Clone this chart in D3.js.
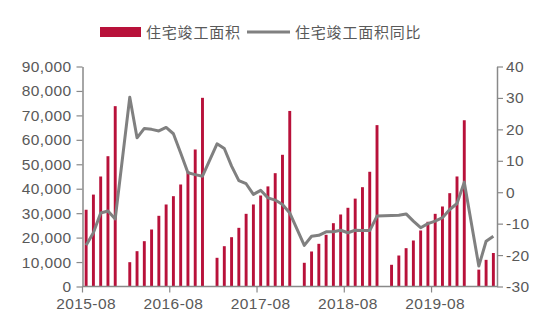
<!DOCTYPE html>
<html>
<head>
<meta charset="utf-8">
<script src="https://cdn.jsdelivr.net/npm/d3@7/dist/d3.min.js"></script>
<style>
  html, body { margin: 0; padding: 0; background: #fff; }
  svg { display: block; }
</style>
</head>
<body>
<svg id="chart" width="550" height="336"></svg>
<script>
const months = [
  "2015-08","2015-09","2015-10","2015-11","2015-12",
  "2016-01","2016-02","2016-03","2016-04","2016-05","2016-06","2016-07","2016-08","2016-09","2016-10","2016-11","2016-12",
  "2017-01","2017-02","2017-03","2017-04","2017-05","2017-06","2017-07","2017-08","2017-09","2017-10","2017-11","2017-12",
  "2018-01","2018-02","2018-03","2018-04","2018-05","2018-06","2018-07","2018-08","2018-09","2018-10","2018-11","2018-12",
  "2019-01","2019-02","2019-03","2019-04","2019-05","2019-06","2019-07","2019-08","2019-09","2019-10","2019-11","2019-12",
  "2020-01","2020-02","2020-03","2020-04"
];
// 住宅竣工面积 (cumulative, 万平方米); January has no data
const area = [
  31400, 37600, 45000, 53300, 73777,
  null, 9950, 14450, 18540, 23320, 28920, 33550, 36950, 41730, 47170, 56050, 77185,
  null, 11740, 16490, 20170, 24000, 29730, 33550, 37230, 40950, 46360, 53880, 71815,
  null, 9700, 14320, 17460, 21150, 25900, 29460, 32200, 35950, 40630, 46930, 66016,
  null, 8880, 12680, 15680, 18820, 22910, 26470, 29730, 32730, 38180, 45010, 68011,
  null, 6900, 10900, 13700
];
// 住宅竣工面积同比 (%)
const yoy = [
  -16.9, -12.9, -6.6, -6.0, -8.5,
  null, 30.2, 17.3, 20.3, 20.0, 19.5, 20.6, 18.6, 12.5, 6.2, 5.6, 5.1,
  null, 15.4, 13.9, 8.3, 3.7, 2.7, -0.7, 0.6, -1.8, -2.5, -3.9, -6.6,
  null, -16.9, -14.0, -13.7, -12.6, -12.6, -12.1, -12.9, -12.1, -12.2, -12.2, -7.6,
  null, -7.4, -7.3, -6.9, -9.2, -11.3, -10.0, -9.2, -8.1, -5.5, -3.6, 3.2,
  null, -23.5, -15.6, -14.0
];
const leftTicks = [0, 10000, 20000, 30000, 40000, 50000, 60000, 70000, 80000, 90000];
const rightTicks = [-30, -20, -10, 0, 10, 20, 30, 40];
const xLabels = ["2015-08", "2016-08", "2017-08", "2018-08", "2019-08"];
const seriesNames = ["住宅竣工面积", "住宅竣工面积同比"];

const barColor = "#b8113a";
const lineColor = "#808080";
const axisColor = "#898989";
const textColor = "#595959";

const svg = d3.select("#chart");
const plotLeft = 82.5, plotRight = 497, plotTop = 66.5, plotBottom = 286.5;

const x = d3.scaleBand().domain(months).range([plotLeft, plotRight]).paddingInner(0.6).paddingOuter(0.3);
const yL = d3.scaleLinear().domain([0, 90000]).range([plotBottom, plotTop]);
const yR = d3.scaleLinear().domain([-30, 40]).range([plotBottom, plotTop]);

const data = months.map((m, i) => ({ m, a: area[i], r: yoy[i] }));

// bars
svg.append("g").selectAll("rect")
  .data(data.filter(d => d.a != null))
  .join("rect")
  .attr("x", d => x(d.m))
  .attr("width", x.bandwidth())
  .attr("y", d => yL(d.a))
  .attr("height", d => yL(0) - yL(d.a))
  .attr("fill", barColor);

// line (skip missing months, connect across)
const line = d3.line()
  .x(d => x(d.m) + x.bandwidth() / 2)
  .y(d => yR(d.r));
svg.append("path")
  .datum(data.filter(d => d.r != null))
  .attr("d", line)
  .attr("fill", "none")
  .attr("stroke", lineColor)
  .attr("stroke-width", 3)
  .attr("stroke-linejoin", "round");

// left axis
const gL = svg.append("g").attr("transform", `translate(${plotLeft},0)`)
  .call(d3.axisLeft(yL).tickValues(leftTicks).tickFormat(d3.format(",")).tickSize(6).tickSizeOuter(0).tickPadding(5));
// right axis
const gR = svg.append("g").attr("transform", `translate(${plotRight},0)`)
  .call(d3.axisRight(yR).tickValues(rightTicks).tickFormat(d => String(d)).tickSize(6).tickSizeOuter(0).tickPadding(3));
// bottom axis (labels centered on category)
const gB = svg.append("g").attr("transform", `translate(0,${plotBottom})`)
  .call(d3.axisBottom(x).tickValues(xLabels).tickSize(0).tickSizeOuter(0).tickPadding(11));
gB.select(".domain").attr("d", `M${plotLeft},0H${plotRight}`);
// category boundary ticks
gB.selectAll(".btick")
  .data(xLabels)
  .join("line")
  .attr("class", "btick")
  .attr("x1", d => x(d) - x.step() * x.paddingInner() / 2)
  .attr("x2", d => x(d) - x.step() * x.paddingInner() / 2)
  .attr("y1", 0).attr("y2", 6)
  .attr("stroke", axisColor).attr("stroke-width", 1.2);

[gL, gR, gB].forEach(g => {
  g.selectAll(".domain").attr("stroke", axisColor).attr("stroke-width", 1.5);
  g.selectAll(".tick line").attr("stroke", axisColor).attr("stroke-width", 1.2);
  g.selectAll("text")
    .attr("fill", textColor)
    .style("font-family", "'Liberation Sans', Arial, sans-serif")
    .style("font-size", "15.5px")
    .style("letter-spacing", "0.4px");
});

// legend
const lg = svg.append("g");
lg.append("rect").attr("x", 100).attr("y", 27).attr("width", 41).attr("height", 10).attr("fill", barColor);
lg.append("text").attr("x", 146).attr("y", 37.5).text(seriesNames[0]);
lg.append("line").attr("x1", 247).attr("x2", 290).attr("y1", 32).attr("y2", 32)
  .attr("stroke", lineColor).attr("stroke-width", 3);
lg.append("text").attr("x", 295).attr("y", 37.5).text(seriesNames[1]);
lg.selectAll("text")
  .attr("fill", textColor)
  .style("font-family", "'Noto Sans CJK SC', sans-serif")
  .style("font-size", "15px")
  .style("letter-spacing", "0.8px");
</script>
</body>
</html>
